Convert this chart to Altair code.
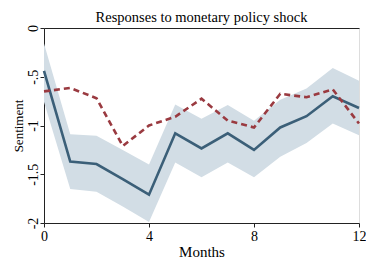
import altair as alt
import pandas as pd

months = list(range(13))
sentiment = [-0.44, -1.37, -1.395, -1.55, -1.71, -1.08, -1.235, -1.08, -1.25, -1.02, -0.905, -0.70, -0.82]
band_upper = [-0.16, -1.09, -1.105, -1.25, -1.40, -0.785, -0.93, -0.79, -0.95, -0.735, -0.62, -0.41, -0.54]
band_lower = [-0.76, -1.65, -1.68, -1.83, -1.99, -1.38, -1.53, -1.38, -1.53, -1.32, -1.18, -0.98, -1.10]
alternative = [-0.65, -0.615, -0.72, -1.21, -1.0, -0.91, -0.725, -0.95, -1.02, -0.675, -0.71, -0.63, -0.98]

y_ticks = [0, -0.5, -1, -1.5, -2]
y_tick_labels = ["0", "-.5", "-1", "-1.5", "-2"]
x_ticks = [0, 4, 8, 12]

df = pd.DataFrame({
    "month": months,
    "sent": sentiment,
    "hi": band_upper,
    "lo": band_lower,
    "alt": alternative,
})

label_expr = " : ".join(
    f"datum.value == {v} ? '{l}'" for v, l in zip(y_ticks, y_tick_labels)
) + " : ''"

FONT = "Liberation Serif"

x_scale = alt.Scale(domain=[0, 12], nice=False, zero=False)
y_scale = alt.Scale(domain=[-2, 0], nice=False, zero=False)

x_axis = alt.Axis(values=x_ticks, title="Months", grid=False, labelFlush=False,
                  tickSize=4, labelPadding=2, titlePadding=1,
                  labelFontSize=14, titleFontSize=15, labelFont=FONT, titleFont=FONT,
                  titleFontWeight="normal", domainColor="#222", tickColor="#222",
                  labelColor="#000", titleColor="#000")
y_axis = alt.Axis(values=y_ticks, labelExpr=label_expr, title="Sentiment", grid=False,
                  labelAngle=-90, labelAlign="center", labelBaseline="bottom",
                  labelFlush=False, tickSize=4, labelPadding=0, titlePadding=1,
                  labelFontSize=14, titleFontSize=13, labelFont=FONT, titleFont=FONT,
                  titleFontWeight="normal", domainColor="#222", tickColor="#222",
                  labelColor="#000", titleColor="#000")
top_axis = alt.Axis(orient="top", labels=False, ticks=False, title=None, grid=False,
                    domainColor="#222")

base = alt.Chart(df)

band = base.mark_area(color="#d2dde5", opacity=1).encode(
    x=alt.X("month:Q", scale=x_scale, axis=x_axis),
    y=alt.Y("hi:Q", scale=y_scale, axis=y_axis),
    y2="lo:Q",
)

line_main = base.mark_line(color="#3b5f78", strokeWidth=2.6).encode(
    x=alt.X("month:Q", scale=x_scale, axis=top_axis),
    y=alt.Y("sent:Q", scale=y_scale),
)

line_alt = base.mark_line(color="#9a3a40", strokeWidth=2.6, strokeDash=[6, 4]).encode(
    x=alt.X("month:Q", scale=x_scale, axis=None),
    y=alt.Y("alt:Q", scale=y_scale),
)

chart = alt.layer(band, line_main, line_alt).resolve_axis(x="independent").properties(
    width=315,
    height=195,
    autosize=alt.AutoSizeParams(type="none"),
    padding={"left": 36, "top": 20, "right": 7, "bottom": 40},
    title=alt.TitleParams("Responses to monetary policy shock", font=FONT, fontSize=14.5,
                          fontWeight="normal", color="#000", offset=2, dy=3,
                          anchor="middle"),
).configure_view(stroke=None).configure(background="white")

chart.save("out.html", embed_options={"renderer": "svg", "actions": False})
